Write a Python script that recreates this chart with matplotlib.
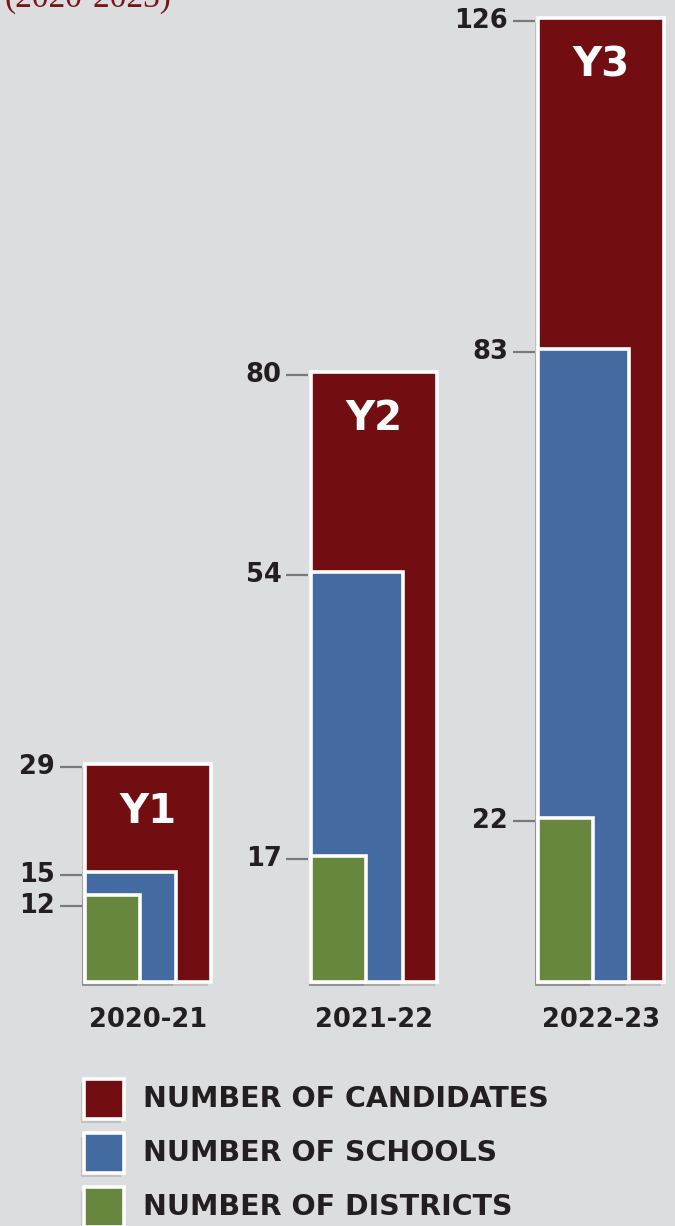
import matplotlib.pyplot as plt
import matplotlib.patheffects as pe
from matplotlib.patches import Rectangle

years = ['2020-21', '2021-22', '2022-23']
year_tags = ['Y1', 'Y2', 'Y3']
candidates = [29, 80, 126]
schools = [15, 54, 83]
districts = [12, 17, 22]
series_names = ['NUMBER OF CANDIDATES', 'NUMBER OF SCHOOLS', 'NUMBER OF DISTRICTS']

BG = '#dcdddf'
COLORS = ['#720e12', '#436ba1', '#66873d']
TEXT = '#231f20'
FONT = 'DejaVu Sans'
PX = 1 / 226.5  # one pixel in x data units
FLOOR = 0.65    # visible bottom of the bars
MIN_GAP = 4.0   # min spacing between value labels, data units

fig = plt.figure(figsize=(6.75, 12.26), dpi=100, facecolor=BG)
ax = fig.add_axes([0, 0.199, 1, 0.801])
ax.set_facecolor(BG)
ax.set_xlim(-0.375, 2.605)
ax.set_ylim(FLOOR, 128.35)
ax.axis('off')

x = list(range(len(years)))
widths = [0.556, 0.402, 0.243]
shadow = [pe.SimplePatchShadow(offset=(-2, -3), shadow_rgbFace='black', alpha=0.13), pe.Normal()]
for k, (vals, w) in enumerate(zip([candidates, schools, districts], widths)):
    ax.bar(x, [v - FLOOR for v in vals], bottom=FLOOR, width=w, align='edge',
           color=COLORS[k], edgecolor='white', linewidth=2.6, zorder=2 + k,
           path_effects=shadow, clip_on=False)

# value ticks on the left of each group
for i in x:
    prev = None
    for v in (candidates[i], schools[i], districts[i]):
        ypos = v - 0.4
        if prev is not None and prev - ypos < MIN_GAP:
            ypos = prev - MIN_GAP
        prev = ypos
        ax.plot([i - 25 * PX, i - 3 * PX], [ypos, ypos], color='#7a7a7a', lw=1.6,
                solid_capstyle='butt', zorder=1)
        ax.text(i - 30 * PX, ypos, str(v), ha='right', va='center', fontsize=18.5,
                fontweight='bold', family=FONT, color=TEXT)
    ax.text(i + widths[0] / 2, candidates[i] - 6.2, year_tags[i], ha='center', va='center',
            fontsize=29, fontweight='heavy', family=FONT, color='white', zorder=6)
    ax.text(i + widths[0] / 2, -4.3, years[i], ha='center', va='center', fontsize=18.5,
            fontweight='bold', family=FONT, color=TEXT, clip_on=False)

# legend and header in pixel space
ov = fig.add_axes([0, 0, 1, 1], zorder=-1)
ov.set_xlim(0, 675)
ov.set_ylim(1226, 0)
ov.axis('off')
rows = [1099, 1153, 1207]
for name, color, yy in zip(series_names, COLORS, rows):
    ov.add_patch(Rectangle((84, yy - 20), 40, 40, facecolor=color, edgecolor='white', lw=2.6,
                           path_effects=shadow))
    ov.text(143, yy, name, ha='left', va='center', fontsize=20.5, fontweight='bold',
            family=FONT, color=TEXT)

fig.text(5 / 675, 1 - 7 / 1226, '(2020-2023)', family='Liberation Serif', fontsize=24,
         color='#7a1418', va='baseline', ha='left')

fig.savefig('out.png', dpi=100, facecolor=BG)
